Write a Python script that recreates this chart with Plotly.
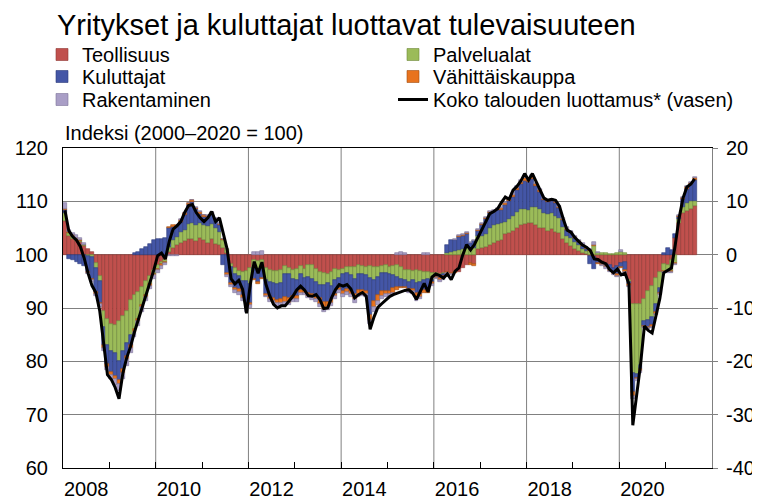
import plotly.graph_objects as go

# Months Jan 2008 .. Aug 2021
months = [f"{y}-{m:02d}" for y in range(2008, 2022) for m in range(1, 13)][:164]

teollisuus = [
    6.3, 3.5, 3.0, 2.6, 2.3, 1.6, 1.0, 0.5, -1.5, -4.0, -10.5, -12.0,
    -13.0, -13.2, -12.5, -11.5, -10.5, -8.5, -7.5, -7.0, -6.0, -5.0, -4.0, -2.8,
    -2.0, -1.4, -1.0, 0.5, 1.2, 1.8, 2.2, 2.5, 3.0, 3.0, 2.5, 3.1,
    2.8, 2.2, 3.0, 2.0, 1.8, 1.2, 0.3, -1.8, -2.5, -3.0, -3.2, -3.0,
    -2.5, -1.0, -1.2, -1.0, -2.5, -2.8, -3.0, -3.0, -2.8, -2.2, -2.5, -2.8,
    -2.6, -2.2, -2.6, -2.0, -2.0, -2.6, -3.2, -3.5, -3.6, -3.2, -2.6, -2.8,
    -2.6, -2.3, -2.4, -2.4, -2.0, -2.2, -2.4, -2.2, -2.3, -2.4, -2.2, -2.0,
    -2.4, -2.2, -2.0, -2.4, -2.9, -2.9, -3.0, -2.9, -3.0, -3.2, -3.3, -3.4,
    -3.5, -3.6, -3.4, -3.3, -3.4, -3.2, -3.2, -2.5, -2.0, -1.5, -1.8, 1.0,
    1.3, 1.5, 1.8, 2.2, 2.5, 2.8, 3.8, 4.0, 4.5, 5.0, 5.5, 5.8,
    5.9, 5.9, 5.6, 5.0, 5.0, 4.5, 4.8, 4.3, 4.0, 3.0, 2.2, 1.6,
    1.0, 0.6, 0.3, 0.1, -0.3, -0.4, -1.0, -1.5, -1.8, -2.0, -2.5, -2.2,
    -1.5, -1.4, -4.8, -9.2, -9.3, -9.2, -8.3, -6.8, -5.8, -4.3, -3.2, -1.8,
    -2.0, -1.0, 3.2, 6.0, 7.8, 8.2, 8.5, 9.1,
]

palvelualat = [
    1.5, 0.5, 0.5, 0.4, 0.3, 0.2, -0.3, -0.5, -1.0, -1.0, -3.0, -5.0,
    -5.0, -5.3, -7.5, -6.5, -6.0, -6.5, -6.5, -5.0, -3.5, -2.6, -1.5, -0.8,
    -0.6, -0.4, -0.3, 1.0, 1.5, 1.5, 2.0, 2.2, 2.8, 3.0, 3.0, 2.8,
    2.8, 3.2, 2.8, 3.0, 2.5, 1.5, 0.8, -0.5, -1.2, -1.0, -1.8, -2.0,
    -3.0, -1.5, -1.5, -1.3, -2.3, -2.3, -2.3, -2.5, -2.5, -1.5, -1.2, -1.8,
    -2.2, -1.5, -1.8, -2.2, -2.6, -2.5, -2.5, -2.2, -1.8, -2.6, -2.2, -1.6,
    -1.0, -1.2, -1.5, -2.2, -1.6, -1.5, -1.5, -2.2, -2.5, -1.8, -1.2, -1.5,
    -1.2, -1.6, -2.2, -2.2, -1.8, -2.2, -1.8, -2.4, -2.2, -1.5, -1.2, -1.3,
    -0.4, -0.3, -0.3, 0.3, 0.5, 0.6, 0.8, 1.0, 1.3, 1.3, 1.2, 2.5,
    2.2, 2.3, 3.2, 3.3, 3.3, 3.2, 2.3, 2.6, 2.8, 3.0, 3.1, 2.8,
    2.5, 3.0, 3.3, 3.5, 2.8, 3.2, 3.0, 3.0, 2.9, 2.2, 1.3, 1.5,
    1.3, 1.2, 0.8, 0.6, 0.6, 1.6, 0.3, 0.3, 0.3, 0.2, 0.2, 0.3,
    0.5, 0.3, -0.3, -13.0, -13.0, -11.5, -4.2, -5.5, -5.8, -5.0, -3.0, -1.2,
    -1.0, -2.0, -1.5, 0.6, 1.2, 1.4, 1.5, 0.9,
]

kuluttajat = [
    0.5, -0.8, -1.0, -1.3, -1.8, -2.2, -3.0, -4.0, -4.5, -4.0, -3.5, -3.5,
    -4.0, -4.3, -3.5, -3.5, -2.5, -2.0, 0.3, 0.5, 1.0, 1.5, 2.0, 2.8,
    3.0, 3.0, 3.2, 3.5, 2.5, 2.0, 2.0, 2.8, 3.5, 3.8, 3.0, 1.8,
    1.5, 1.6, 1.8, 1.5, 1.3, -2.0, -3.5, -3.0, -2.5, -2.5, -2.5, -4.5,
    -3.5, -2.0, -2.5, -2.0, -2.5, -2.8, -2.8, -3.0, -3.0, -4.3, -4.5, -3.2,
    -3.0, -3.0, -2.2, -3.0, -2.8, -2.8, -2.5, -3.2, -3.5, -2.5, -2.5, -1.8,
    -3.2, -3.0, -3.0, -2.8, -3.0, -3.0, -3.0, -7.0, -3.8, -3.3, -3.4, -3.4,
    -3.2, -2.5, -1.8, -1.4, -1.3, -1.3, -1.6, -1.8, -2.2, -2.0, -2.3, -0.5,
    -0.3, -0.5, -0.3, 1.5, 2.2, 2.2, 2.5, 2.5, 2.5, 0.8, 1.3, 1.0,
    2.0, 2.8, 2.8, 2.5, 2.5, 2.4, 3.2, 3.5, 3.5, 4.2, 4.6, 5.3,
    5.3, 5.3, 4.0, 3.3, 2.5, 2.2, 2.3, 2.4, 1.8, 1.3, 1.2, 1.0,
    0.8, 0.6, 0.6, 0.4, -1.5, -2.3, -0.5, -0.3, -0.4, -0.8, -0.8, -1.5,
    -0.8, -1.5, -0.4, -3.5, -0.8, -0.8, -0.8, -1.2, -1.6, -1.5, -1.0, 0.3,
    1.2, 0.8, 0.6, 0.5, 1.5, 2.8, 3.2, 4.0,
]

vahittaiskauppa = [
    0.3, 0.2, 0.2, 0.2, 0.2, 0.1, -0.2, -0.3, -0.3, -0.3, -0.5, -0.5,
    -0.6, -0.6, -0.8, -0.6, -0.6, -0.5, -0.5, -0.4, -0.4, -0.3, -0.3, -0.3,
    -0.3, -0.3, -0.2, 0.2, 0.3, 0.3, 0.3, 0.3, 0.3, 0.4, 0.3, 0.3,
    0.3, 0.3, 0.3, 0.2, 0.2, 0.2, -0.3, -0.4, -0.5, -0.5, -0.6, -0.7,
    -0.5, -0.3, -0.3, -0.3, -0.4, -0.5, -0.5, -0.6, -0.8, -0.8, -0.8, -0.6,
    -0.5, -0.5, -0.5, -0.5, -0.6, -0.5, -1.0, -1.2, -1.0, -0.8, -0.5, -0.5,
    -0.6, -0.5, -0.5, -1.0, -0.8, -0.5, -0.5, -0.8, -1.3, -1.2, -1.0, -0.5,
    -0.5, -0.8, -0.6, -0.3, -0.3, -0.4, -0.5, -1.0, -0.6, -0.4, -0.4, -0.3,
    -0.2, -0.4, -0.5, -0.2, -0.2, -0.2, 0.2, 0.2, 0.2, -0.5, -0.3, 0.2,
    0.2, 0.2, 0.2, 0.2, 0.2, 0.3, 0.3, 0.3, 0.4, 0.3, 0.5, 0.4,
    0.3, 0.4, 0.3, 0.3, 0.2, 0.2, 0.2, 0.2, 0.2, 0.2, 0.2, 0.2,
    0.2, 0.2, 0.2, 0.2, 0.2, 0.3, -0.2, -0.2, -0.2, -0.2, -0.3, -0.3,
    -0.2, -0.3, -0.3, -0.8, -0.3, -0.3, -0.3, -0.2, -0.3, -0.3, -0.2, -0.2,
    -0.2, -0.3, -0.3, 0.2, 0.2, 0.3, 0.3, 0.3,
]

rakentaminen = [
    1.0, 0.5, 0.4, 0.4, 0.3, 0.2, -0.2, -0.3, -0.4, -0.5, -0.5, -0.7,
    -0.8, -1.0, -1.2, -1.3, -1.2, -1.0, -1.0, -0.9, -0.8, -0.7, -0.6, -0.6,
    -0.6, -0.5, -0.5, -0.3, -0.2, -0.2, 0.1, 0.1, 0.1, 0.1, 0.1, 0.1,
    0.1, 0.1, 0.1, 0.1, 0.1, 0.1, -0.3, -0.4, -0.5, -0.5, -0.6, -0.6,
    -0.5, 0.5, 0.5, 0.6, -0.3, -0.4, -0.5, -0.5, -0.5, -0.6, -0.5, -0.5,
    -0.5, -0.4, -0.4, -0.5, -0.5, -0.5, -0.6, -0.6, -0.5, -0.5, -0.5, -0.4,
    -0.6, -0.6, -0.6, -0.7, -0.6, -0.6, -0.6, -0.8, -0.8, -0.7, -0.6, -0.5,
    -0.5, -0.5, 0.4, 0.5, 0.3, -0.3, -0.4, -0.5, -0.4, 0.4, 0.4, -0.3,
    -0.2, -0.3, -0.3, -0.2, -0.2, 0.2, 0.2, 0.2, 0.2, 0.2, 0.2, 0.2,
    0.2, 0.2, 0.2, 0.2, 0.2, 0.2, 0.3, 0.3, 0.3, 0.3, 0.3, 0.4,
    0.3, 0.3, 0.3, 0.2, 0.2, 0.2, 0.2, 0.2, 0.2, 0.2, 0.2, 0.2,
    0.2, 0.2, 0.2, 0.2, 0.3, 0.5, 0.2, -0.2, -0.2, -0.2, -0.2, -0.2,
    0.3, -0.2, -0.3, -0.5, -0.3, -0.3, -0.2, -0.2, -0.2, -0.2, -0.2, -0.2,
    -0.2, -0.2, -0.2, 0.1, 0.1, 0.2, 0.2, 0.2,
]

luottamus = [
    108.3, 104.5, 103.4, 102.7, 101.5, 99.3, 96.5, 94.2, 92.9, 89.5, 83.5, 77.5,
    76.6, 75.1, 73.0, 77.8, 80.7, 82.8, 85.5, 87.8, 90.1, 92.2, 94.9, 97.1,
    99.8, 100.3, 99.2, 102.5, 104.8, 105.4, 106.2, 107.9, 109.2, 109.4, 107.9, 106.9,
    106.2, 106.9, 108.1, 106.2, 106.9, 104.0, 101.0, 95.5, 94.5, 95.2, 93.5, 89.0,
    94.5, 98.7, 96.5, 98.6, 94.5, 92.3, 90.7, 90.0, 90.4, 90.4, 91.2, 92.2,
    93.4, 94.1, 93.4, 92.3, 92.2, 92.5, 91.6, 89.9, 90.0, 91.9, 93.4, 94.4,
    94.1, 94.4, 93.6, 91.9, 92.5, 92.9, 92.2, 86.0, 88.3, 90.1, 90.8, 91.4,
    92.1, 92.5, 92.8, 93.1, 93.3, 93.4, 92.8, 91.6, 93.1, 94.6, 93.0, 95.8,
    96.4, 96.1, 95.6, 96.4, 95.3, 96.9, 97.5, 100.0, 101.9, 100.9, 101.9, 103.3,
    105.0, 106.4, 107.7, 108.1, 108.6, 109.8, 110.8, 110.4, 112.1, 112.8, 113.8, 115.2,
    114.0, 115.2, 113.6, 112.3, 110.6, 110.2, 110.4, 110.2, 109.1, 106.7, 104.6, 104.2,
    103.2, 102.5, 101.8, 101.4, 100.8, 99.2, 99.1, 98.6, 98.3, 97.2, 96.6, 97.3,
    96.2, 96.5, 94.5, 68.0, 74.0, 79.4, 86.6, 85.8, 85.3, 88.5, 91.8, 96.6,
    97.0, 97.5, 101.9, 106.9, 110.6, 112.7, 113.2, 114.2,
]

label_years = [2008, 2010, 2012, 2014, 2016, 2018, 2020]
grid_years = [2010, 2012, 2014, 2016, 2018, 2020]
tick_years = list(range(2009, 2022))
left_ticks = [60, 70, 80, 90, 100, 110, 120]
right_ticks = [-40, -30, -20, -10, 0, 10, 20]

FONT = "Liberation Sans, Arial, sans-serif"
x = list(range(len(months)))

# The page body adds an 8 px margin, so the figure is 8 px smaller than the
# 760x502 window and all pixel positions are measured in figure space.
W, H = 752, 494
ML, MR, MT, MB = 55, 48, 140, 34
PW, PH = W - ML - MR, H - MT - MB


def year_start(year):
    return (year - 2008) * 12 - 0.5


# legend rows: Teollisuus | Palvelualat ; Kuluttajat | Vähittäiskauppa ;
# Rakentaminen | Koko talouden luottamus
series = [
    ("Teollisuus", teollisuus, "#C0504D", "#8E3533", "legend"),
    ("Palvelualat", palvelualat, "#9BBB59", "#6F8A3A", "legend"),
    ("Kuluttajat", kuluttajat, "#4456A6", "#2B3A7A", "legend2"),
    ("Vähittäiskauppa", vahittaiskauppa, "#E8731E", "#A04E10", "legend2"),
    ("Rakentaminen", rakentaminen, "#A99EC6", "#7C7299", "legend3"),
]

fig = go.Figure()
for name, vals, col, lcol, leg in series:
    fig.add_trace(go.Bar(
        x=x, y=vals, name=name, legend=leg,
        marker=dict(color=col, line=dict(color=lcol, width=0.6)),
        yaxis="y",
    ))

fig.add_trace(go.Scatter(
    x=x, y=luottamus, name="Koko talouden luottamus* (vasen)", legend="legend3",
    mode="lines", line=dict(color="black", width=3), yaxis="y2",
))

shapes = []
for gy in grid_years:
    shapes.append(dict(type="line", xref="x", yref="paper",
                       x0=year_start(gy), x1=year_start(gy), y0=0, y1=1,
                       line=dict(color="#808080", width=1), layer="below"))


def legend_row(top_px):
    return dict(xref="paper", yref="paper",
                x=(34 - ML) / PW, y=1 + (MT - top_px) / PH,
                xanchor="left", yanchor="top", orientation="h",
                entrywidth=306, entrywidthmode="pixels",
                bgcolor="rgba(0,0,0,0)", borderwidth=0,
                font=dict(family=FONT, size=20, color="black"),
                tracegroupgap=0, itemwidth=30)


fig.update_layout(
    width=W, height=H,
    margin=dict(l=ML, r=MR, t=MT, b=MB, autoexpand=False),
    paper_bgcolor="white", plot_bgcolor="white",
    barmode="relative", bargap=0,
    font=dict(family=FONT, size=20, color="black"),
    title=dict(text="Yritykset ja kuluttajat luottavat tulevaisuuteen",
               x=49 / W, xanchor="left", xref="container",
               y=1 - 17 / H, yanchor="middle", yref="container",
               pad=dict(l=0, r=0, t=0, b=0),
               font=dict(family=FONT, size=29, color="black")),
    xaxis=dict(range=[-0.5, 167.5], tickmode="array",
               tickvals=[(yy - 2008) * 12 + 5.5 for yy in label_years],
               ticktext=[str(yy) for yy in label_years],
               ticks="", showgrid=False, zeroline=False,
               showline=True, linecolor="black", linewidth=1, mirror=True,
               ticklabelstandoff=3,
               minor=dict(tickmode="array",
                          tickvals=[year_start(yy) for yy in tick_years],
                          ticks="inside", ticklen=6, tickcolor="black",
                          tickwidth=1, showgrid=False)),
    yaxis=dict(side="right", range=[-40, 20], tickmode="array",
               tickvals=right_ticks, ticktext=[str(v) for v in right_ticks],
               showgrid=True, gridcolor="#808080", gridwidth=1,
               zeroline=False, showline=True, linecolor="#808080",
               ticks="outside", ticklen=5, tickcolor="#808080",
               ticklabelstandoff=4),
    yaxis2=dict(side="left", overlaying="y", range=[60, 120], tickmode="array",
                tickvals=left_ticks, ticktext=[str(v) for v in left_ticks],
                showgrid=False, zeroline=False, showline=True,
                linecolor="black", ticks="", ticklabelstandoff=10),
    legend=legend_row(27),
    legend2=legend_row(49),
    legend3=legend_row(72),
    shapes=shapes,
    annotations=[dict(text="Indeksi (2000–2020 = 100)", xref="paper", yref="paper",
                      x=0, y=1 + 15 / PH, xanchor="left", yanchor="middle",
                      showarrow=False, font=dict(family=FONT, size=20))],
)

fig.write_html("out.html")
